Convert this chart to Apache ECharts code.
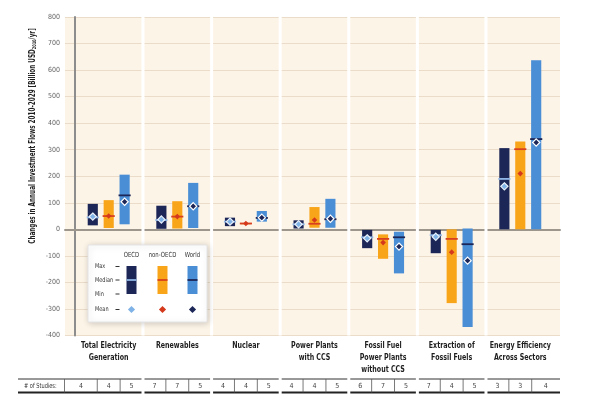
<!DOCTYPE html>
<html>
<head>
<meta charset="utf-8">
<script src="https://cdn.jsdelivr.net/npm/echarts@6/dist/echarts.min.js"></script>
<style>html,body{margin:0;padding:0;background:#fff}#c{width:590px;height:402px}</style>
</head>
<body>
<div id="c"></div>
<script>
const categories = ["Total Electricity\nGeneration","Renewables","Nuclear","Power Plants\nwith CCS","Fossil Fuel\nPower Plants\nwithout CCS","Extraction of\nFossil Fuels","Energy Efficiency\nAcross Sectors"];

const oecdMax    = [96, 89, 44, 34, -2, -2, 306];
const oecdMin    = [15, 2, 12, 3, -71, -90, 0];
const oecdMedian = [45, 35, 29, 19, -30, -22, 190];
const oecdMean   = [48, 37, 29, 19, -34, -28, 162];

const nonOecdMax    = [110, 106, 23, 84, -19, 0, 331];
const nonOecdMin    = [5, 3, 21, 6, -111, -278, 0];
const nonOecdMedian = [50, 48, 22, 21, -36, -36, 302];
const nonOecdMean   = [50, 48, 22, 35, -50, -86, 210];

const worldMax    = [206, 175, 69, 115, -9, 3, 637];
const worldMin    = [19, 5, 29, 6, -166, -368, 0];
const worldMedian = [128, 87, 43, 38, -30, -56, 340];
const worldMean   = [104, 87, 44, 40, -65, -118, 327];

const studiesOecd    = [4, 7, 4, 4, 6, 7, 3];
const studiesNonOecd = [4, 7, 4, 4, 7, 4, 3];
const studiesWorld   = [5, 5, 5, 5, 5, 5, 4];

const yTicks = {min: -400, max: 800, interval: 100};

const FONT = '"Liberation Sans Narrow","DejaVu Sans Condensed","Liberation Sans",sans-serif';
const X_MIN = -0.137, X_MAX = 7.079;

const chart = echarts.init(document.getElementById('c'), null, {renderer: 'canvas'});

function regionSeries(name, j, mins, maxs, meds, means, barColor, medColor, meanColor, meanStroke, d) {
  return {
    type: 'custom', name: name, z: 3,
    data: categories.map((c, i) => [i, mins[i], maxs[i], meds[i], means[i]]),
    encode: {x: 0, y: [1, 2]},
    renderItem: function (params, api) {
      const i = api.value(0);
      const pw = api.size([1, 0])[0];
      const cx = api.coord([i + 0.5, 0])[0] + (j - 1) * pw * 0.232;
      const w = pw * 0.148;
      const yTop = api.coord([0, api.value(2)])[1];
      const yBot = api.coord([0, api.value(1)])[1];
      const yMed = api.coord([0, api.value(3)])[1];
      const yMean = api.coord([0, api.value(4)])[1];
      return {type: 'group', children: [
        {type: 'rect', shape: {x: cx - w / 2, y: yTop, width: w, height: Math.max(yBot - yTop, 1)}, style: {fill: barColor}},
        {type: 'line', shape: {x1: cx - w / 2 - 1, y1: yMed, x2: cx + w / 2 + 1, y2: yMed}, style: {stroke: medColor, lineWidth: 1.8}},
        {type: 'polygon', shape: {points: [[cx, yMean - d], [cx + d, yMean], [cx, yMean + d], [cx - d, yMean]]}, style: {fill: meanColor, stroke: meanStroke, lineWidth: 1.2}}
      ]};
    }
  };
}

const decorSeries = {
  type: 'custom', name: 'decor', z: 5, silent: true,
  data: categories.map((c, i) => [i, 0]),
  encode: {x: 0, y: 1},
  renderItem: function (params, api) {
    const i = api.value(0);
    const pw = api.size([1, 0])[0];
    const xl = api.coord([i, 0])[0];
    const xrP = api.coord([i + 1, 0])[0];
    const yTopG = api.coord([0, yTicks.max])[1];
    const yBotG = api.coord([0, yTicks.min])[1];
    const children = [];
    if (i > 0) {
      children.push({type: 'rect', shape: {x: xl - 1.5, y: yTopG, width: 3, height: yBotG - yTopG}, style: {fill: '#ffffff'}});
    }
    children.push({type: 'text', x: (xl + xrP) / 2, y: yBotG + 4, scaleX: 0.74,
      style: {text: categories[i], fill: '#1e1e1e', fontFamily: FONT, fontWeight: 'bold', fontSize: 9.5,
        align: 'center', verticalAlign: 'top', lineHeight: 12}});
    const tTop = yBotG + 43.5, tBot = yBotG + 57, tMid = (tTop + tBot) / 2;
    const lineStart = i === 0 ? 18 : xl + 1.5;
    const xr = i === categories.length - 1 ? api.coord([X_MAX, 0])[0] : xrP;
    const lineEnd = i === categories.length - 1 ? xr : xr - 1.5;
    children.push({type: 'line', shape: {x1: lineStart, y1: tTop, x2: lineEnd, y2: tTop}, style: {stroke: '#333', lineWidth: 1}});
    children.push({type: 'line', shape: {x1: lineStart, y1: tBot, x2: lineEnd, y2: tBot}, style: {stroke: '#222', lineWidth: 2}});
    const b1 = xl + pw / 3, b2 = xl + 2 * pw / 3;
    const c0start = i === 0 ? api.coord([X_MIN, 0])[0] - 0.5 : xl;
    [b1, b2].forEach(b => children.push({type: 'line', shape: {x1: b, y1: tTop, x2: b, y2: tBot}, style: {stroke: '#555', lineWidth: 0.8}}));
    if (i === 0) {
      children.push({type: 'line', shape: {x1: c0start, y1: tTop, x2: c0start, y2: tBot}, style: {stroke: '#555', lineWidth: 0.8}});
      children.push({type: 'text', x: 24, y: tMid, scaleX: 0.8, style: {text: '# of Studies:', fill: '#333', fontFamily: FONT, fontSize: 7, align: 'left', verticalAlign: 'middle'}});
    }
    const centers = [(c0start + b1) / 2, (b1 + b2) / 2, (b2 + xr) / 2];
    const vals = [studiesOecd[i], studiesNonOecd[i], studiesWorld[i]];
    centers.forEach((cx, k) => children.push({type: 'text', x: cx, y: tMid,
      style: {text: String(vals[k]), fill: '#444', fontFamily: FONT, fontSize: 7, align: 'center', verticalAlign: 'middle'}}));
    return {type: 'group', children: children};
  }
};

const L = [];
L.push({type: 'rect', shape: {x: 88, y: 245, width: 119, height: 77, r: 1}, style: {fill: '#ffffff', stroke: '#e4e4e4', lineWidth: 1, shadowBlur: 6, shadowColor: 'rgba(0,0,0,0.18)', shadowOffsetX: 1, shadowOffsetY: 1}, z: 100});
[['OECD', 131.5], ['non-OECD', 162.5], ['World', 192.5]].forEach(h => L.push({type: 'text', x: h[1], y: 255, scaleX: 0.85, style: {text: h[0], fill: '#333', fontFamily: FONT, fontSize: 7, align: 'center', verticalAlign: 'middle'}, z: 101}));
[['Max', 266.5], ['Median', 280], ['Min', 294], ['Mean', 309.5]].forEach(r => {
  L.push({type: 'text', x: 95, y: r[1], scaleX: 0.85, style: {text: r[0], fill: '#333', fontFamily: FONT, fontSize: 6.5, align: 'left', verticalAlign: 'middle'}, z: 101});
  L.push({type: 'line', shape: {x1: 115.5, y1: r[1], x2: 119.5, y2: r[1]}, style: {stroke: '#333', lineWidth: 1}, z: 101});
});
[[131.5, '#1c2657', '#8fb6e6', '#7fb2e6'], [162.5, '#f9a51a', '#d9401e', '#d4391b'], [192.5, '#4a8ed6', '#1c2657', '#1c2657']].forEach(b => {
  L.push({type: 'rect', shape: {x: b[0] - 5, y: 266, width: 10, height: 28}, style: {fill: b[1]}, z: 101});
  L.push({type: 'line', shape: {x1: b[0] - 5, y1: 280, x2: b[0] + 5, y2: 280}, style: {stroke: b[2], lineWidth: 1.8}, z: 102});
  const d = 3.6, y = 309.5, x = b[0];
  L.push({type: 'polygon', shape: {points: [[x, y - d], [x + d, y], [x, y + d], [x - d, y]]}, style: {fill: b[3]}, z: 102});
});
L.push({type: 'text', x: 33, y: 136, rotation: Math.PI / 2, scaleX: 0.79,
  style: {text: 'Changes in Annual Investment Flows 2010-2029 [Billion USD{sub|2010}/yr]', fill: '#1e1e1e', fontFamily: FONT, fontWeight: 'bold', fontSize: 8,
    align: 'center', verticalAlign: 'middle', rich: {sub: {fontSize: 5, fontFamily: FONT, fontWeight: 'bold', fill: '#1e1e1e', padding: [4, 0, 0, 0]}}}, z: 50});

chart.setOption({
  animation: false,
  grid: {left: 65, right: 30, top: 17, bottom: 66.5, show: true, backgroundColor: '#fdf4e8', borderWidth: 0},
  xAxis: {type: 'value', min: X_MIN, max: X_MAX,
    axisLine: {show: true, onZero: true, lineStyle: {color: '#9c968c', width: 2}},
    axisTick: {show: false}, axisLabel: {show: false}, splitLine: {show: false}},
  yAxis: {type: 'value', min: yTicks.min, max: yTicks.max, interval: yTicks.interval,
    axisLine: {show: true, lineStyle: {color: '#8d8d8d', width: 2}},
    axisTick: {show: false},
    axisLabel: {color: '#666', fontSize: 7, fontFamily: FONT, margin: 5},
    splitLine: {show: true, lineStyle: {color: '#eadcc9', width: 1}}},
  graphic: L,
  series: [
    regionSeries('OECD', 0, oecdMin, oecdMax, oecdMedian, oecdMean, '#1c2657', '#8fb6e6', '#7fb2e6', '#e8f0fa', 3.6),
    regionSeries('non-OECD', 1, nonOecdMin, nonOecdMax, nonOecdMedian, nonOecdMean, '#f9a51a', '#d9401e', '#d4391b', 'rgba(255,255,255,0)', 2.8),
    regionSeries('World', 2, worldMin, worldMax, worldMedian, worldMean, '#4a8ed6', '#1c2657', '#1c2657', '#ffffff', 3.6),
    decorSeries
  ]
});
</script>
</body>
</html>
